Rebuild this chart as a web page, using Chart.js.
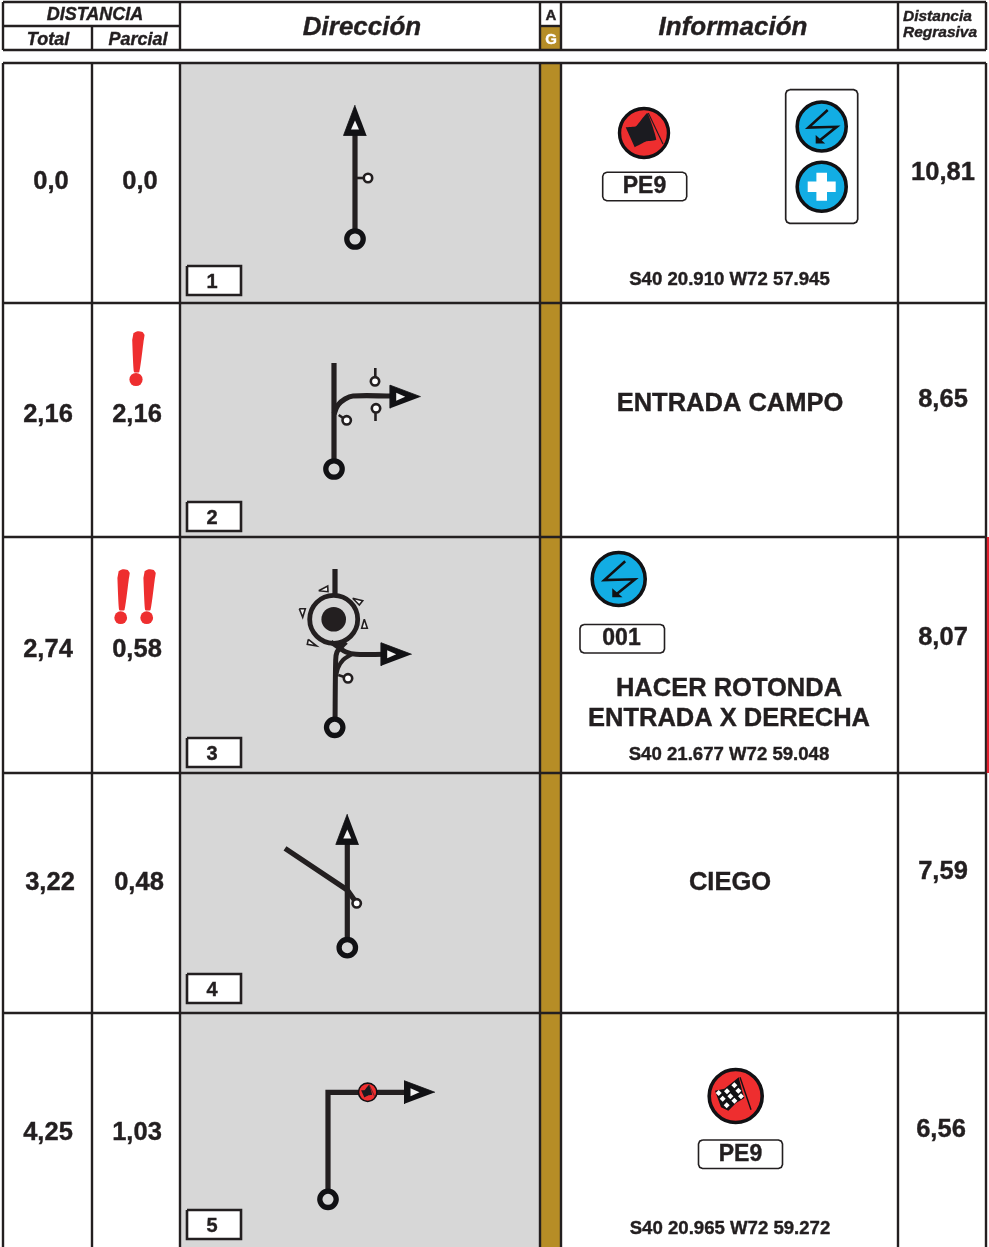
<!DOCTYPE html>
<html>
<head>
<meta charset="utf-8">
<script src="https://cdn.jsdelivr.net/npm/chart.js@4/dist/chart.umd.js"></script>
<style>
  html, body { margin: 0; padding: 0; background: #fff; }
  canvas { display: block; }
</style>
</head>
<body>
<canvas id="roadbook" width="989" height="1247"></canvas>
<script>
// values read from the roadbook
const totalKm = ['0,0', '2,16', '2,74', '3,22', '4,25'];
const partialKm = ['0,0', '2,16', '0,58', '0,48', '1,03'];
const remainingKm = ['10,81', '8,65', '8,07', '7,59', '6,56'];
const stepNumbers = ['1', '2', '3', '4', '5'];
const notes = ['ENTRADA CAMPO', 'HACER ROTONDA', 'ENTRADA X DERECHA', 'CIEGO'];
const coords = ['S40 20.910 W72 57.945', 'S40 21.677 W72 59.048', 'S40 20.965 W72 59.272'];

// layout, in page units
const gridX = [3, 92, 180, 540, 561, 898, 986];
const rowY = [63, 303, 537, 773, 1013];
const pageBottom = 1247;
const totalX = [51, 48, 48, 50, 48];
const partialX = [140, 137, 137, 139, 137];
const kmY = [181, 414, 649, 882, 1132];
const remainingX = [943, 943, 943, 943, 941];
const remainingY = [172, 399, 637, 871, 1129];
const stepBoxY = [266, 502, 738, 974, 1210];

const INK = '#231f20';
const BLACK = '#111114';
const GREY = '#d7d7d7';
const GOLD = '#b68d26';
const RED = '#ee2e2f';
const BLUE = '#12ade4';
const HOLE = '#f2f2f2';

// symbol outlines, relative to their anchor
const arrowUpOuter = [[0, 0], [-11.5, 30.5], [11.5, 30.5]];
const arrowUpInner = [[0, 15.5], [-4, 24.5], [4, 24.5]];
const arrowRightOuter = [[0, 0], [-30.5, -11.5], [-30.5, 11.5]];
const arrowRightInner = [[-15.5, 0], [-24.5, -4], [-24.5, 4]];
const flagShape = [[-18.3, -5.7], [-8, -6.7], [3.3, -20], [12.3, 6.7], [2.3, 8.3], [-9.3, 14.3]];
const flagPole = [[4.3, -20], [19, 11]];
const boltShape = [[6, -16.5], [-13.3, 1], [15, 0.3], [-3.3, 15]];
const boltHead = [[-6, 17], [-6, 8.5], [3.5, 17]];
const crossShape = [[-5.3, -14], [5.3, -14], [5.3, -5.3], [14, -5.3], [14, 5.3], [5.3, 5.3], [5.3, 14], [-5.3, 14], [-5.3, 5.3], [-14, 5.3], [-14, -5.3], [-5.3, -5.3]];
const bangShape = [[-2, 1], [2, -0.8], [7, 0], [9, 3], [8, 10], [3.8, 40], [-1.5, 40], [-3.3, 8]];
const checkerFlag = [[-20.7, -5.3], [-11.3, -7.3], [-4, -13], [3, -18.7], [7, -3], [8.7, 2], [0.3, 7], [-7.3, 14.7], [-14.7, 11.3]];
const checkerPole = [[4.3, -18.7], [15.3, 13.7]];
const checkerWhite = [[-17, -3], [-8.7, -4.7], [-1.3, -10.7], [-13, 2.7], [-5.3, 0.3], [2.7, -5.3], [-9, 9.3], [-1.3, 4.7], [5.3, 0.3]];

// road diagrams
const road1 = [[355, 239], [355, 135]];
const road1Stub = [[355, 178], [364, 178]];
const road2 = [[334, 363], [334, 469]];
const road2Exit = [[334, 414], [338, 405], [345, 399], [353, 396], [392, 396]];
const road2Stubs = [[[338.7, 415], [346.7, 420.3]], [[375.3, 368], [375.3, 381]], [[375.5, 408], [375.5, 421]]];
const road3In = [[335, 727], [335.7, 660], [337, 652], [342, 646], [346, 642]];
const road3Top = [[335, 569], [335, 594]];
const road3Left = [[336, 676], [338, 668], [343, 660], [352, 654]];
const road3Out = [[331, 642], [338, 647], [346, 652], [356, 654.3], [384, 654.3]];
const road3Stub = [[338.3, 675], [348, 678.3]];
const yieldMarks = [
  [[318.7, 590.7], [327.7, 586], [328, 591.7], [318.7, 590.7]],
  [[352.7, 598.3], [362.7, 600.7], [359.3, 605], [352.7, 598.3]],
  [[364.3, 619.3], [361.7, 628.3], [367.3, 628.3], [364.3, 619.3]],
  [[299.3, 608.7], [305.3, 608.7], [302.7, 617.3], [299.3, 608.7]],
  [[308.3, 639.3], [316.7, 646], [307.3, 644.3], [308.3, 639.3]]
];
const road4 = [[347.3, 948], [347.3, 844]];
const road4Branch = [[285, 848.3], [347.3, 890], [356.7, 903.3]];
const road5 = [[328, 1199], [328, 1092.3], [405, 1092.3]];

const place = (shape, cx, cy, s = 1) => shape.map(([x, y]) => ({ x: cx + x * s, y: cy + y * s }));
const toXY = (list) => list.map(([x, y]) => ({ x, y }));
const rect = (x0, y0, x1, y1) => toXY([[x0, y0], [x1, y0], [x1, y1], [x0, y1], [x0, y0]]);
const roundBox = (x0, y0, x1, y1, r) => toXY([
  [x0 + r, y0], [x1 - r, y0], [x1 - r * 0.3, y0 + r * 0.3], [x1, y0 + r], [x1, y1 - r], [x1 - r * 0.3, y1 - r * 0.3],
  [x1 - r, y1], [x0 + r, y1], [x0 + r * 0.3, y1 - r * 0.3], [x0, y1 - r], [x0, y0 + r], [x0 + r * 0.3, y0 + r * 0.3], [x0 + r, y0]
]);

const layers = [];
function line(data, color = INK, width = 2.4, extra = {}) {
  layers.push({ data, showLine: true, fill: false, borderColor: color, borderWidth: width, pointRadius: 0, borderJoinStyle: 'miter', ...extra });
}
function shape(data, color, stroke = null, width = 0, extra = {}) {
  layers.push({ data, showLine: true, fill: 'shape', backgroundColor: color, borderColor: stroke || color, borderWidth: width, pointRadius: 0, borderJoinStyle: 'miter', ...extra });
}
function dot(data, radius, fillColor, stroke = INK, width = 0, extra = {}) {
  layers.push({ data, showLine: false, pointRadius: radius, pointBackgroundColor: fillColor, pointBorderColor: stroke, pointBorderWidth: width, ...extra });
}

function arrowUp(x, y) {
  shape(place(arrowUpOuter, x, y), BLACK, BLACK, 0.8);
  shape(place(arrowUpInner, x, y), HOLE);
}
function arrowRight(x, y) {
  shape(place(arrowRightOuter, x, y), BLACK, BLACK, 0.8);
  shape(place(arrowRightInner, x, y), HOLE);
}
function startRing(x, y) { dot([{ x, y }], 8.2, GREY, BLACK, 5.3); }
function smallRing(x, y) { dot([{ x, y }], 4.2, '#ffffff', INK, 2.6); }
function flagBadge(x, y, s, r, ring) {
  dot([{ x, y }], r, RED, BLACK, ring);
  shape(place(flagShape, x, y, s), '#1b1b20', '#1b1b20', 0, { tension: 0.12 });
  line(place(flagPole, x, y, s), '#1b1b20', s > 0.6 ? 1.1 : 0.6);
}
function boltBadge(x, y, r, s) {
  dot([{ x, y }], r, BLUE, BLACK, 3.6);
  line(place(boltShape, x, y, s), BLACK, 2.6);
  shape(place(boltHead, x, y, s), BLACK);
}
function plate(x0, y0, x1, y1) {
  shape(roundBox(x0, y0, x1, y1, 4), '#ffffff', INK, 1.6);
}

// backgrounds
shape(rect(gridX[2], rowY[0], gridX[3], pageBottom), GREY);
shape(rect(gridX[3], rowY[0], gridX[4], pageBottom), GOLD);
shape(rect(gridX[3], 26, gridX[4], 50), GOLD);

// header grid
gridX.forEach((x, i) => {
  if (i === 1) line(toXY([[x, 26], [x, 50]]));
  else line(toXY([[x, 2], [x, 50]]));
});
line(toXY([[3, 2], [986, 2]]));
line(toXY([[3, 50], [986, 50]]));
line(toXY([[3, 26], [181, 26]]));
line(toXY([[540, 26], [562, 26]]));

// body grid
gridX.forEach((x) => line(toXY([[x, rowY[0]], [x, pageBottom]])));
rowY.forEach((y) => line(toXY([[3, y], [986, y]])));
line(toXY([[988, 537], [988, 773]]), '#e3202f', 2.4);

// step number boxes
stepBoxY.forEach((y) => shape(rect(187, y, 241, y + 29), '#ffffff', INK, 2.6));

// warning marks
shape(place(bangShape, 135.5, 332), RED, RED, 0, { tension: 0.15 });
dot([{ x: 136, y: 379.5 }], 6.6, RED, RED);
[[120.7, 570], [146.7, 570]].forEach(([x, y]) => {
  shape(place(bangShape, x, y), RED, RED, 0, { tension: 0.15 });
  dot([{ x, y: y + 47.7 }], 6.4, RED, RED);
});

// row 1
line(toXY(road1), INK, 5.2);
line(toXY(road1Stub), INK, 2.6);
arrowUp(355, 105);
startRing(355, 239);
smallRing(368, 178);

// row 2
line(toXY(road2), INK, 5.2);
line(toXY(road2Exit), INK, 5.2, { tension: 0.35 });
road2Stubs.forEach((stub) => line(toXY(stub), INK, 2.6));
arrowRight(420.7, 396.7);
startRing(334, 469);
smallRing(346.7, 420.3);
smallRing(375, 381.3);
smallRing(376, 408.3);

// row 3
line(toXY(road3Top), INK, 5.2);
dot([{ x: 333.7, y: 619.3 }], 24, GREY, INK, 4.8);
dot([{ x: 333.7, y: 619.3 }], 12.3, INK);
line(toXY(road3In), INK, 5, { tension: 0.3 });
line(toXY(road3Left), INK, 4.2, { tension: 0.3 });
line(toXY(road3Out), INK, 5, { tension: 0.3 });
line(toXY(road3Stub), INK, 2.6);
arrowRight(411.7, 654.3);
startRing(334.7, 727.3);
smallRing(348, 678.3);
yieldMarks.forEach((mark) => shape(toXY(mark), HOLE, INK, 1.6));

// row 4
line(toXY(road4), INK, 5.2);
line(toXY(road4Branch), INK, 5.2);
arrowUp(347.3, 814);
startRing(347.3, 947.7);
smallRing(356.7, 903.3);

// row 5
line(toXY(road5), INK, 5.2);
arrowRight(435, 1092.3);
startRing(328, 1199.3);
flagBadge(367.7, 1092.3, 0.36, 9.2, 1.6);

// info column, row 1
flagBadge(644, 133, 1, 24.5, 3.4);
plate(602.7, 172.3, 686.7, 200.7);
shape(roundBox(785.7, 89.7, 857.7, 223.3, 4), '#ffffff', INK, 1.7);
boltBadge(821.7, 126.5, 24.5, 1);
dot([{ x: 821.7, y: 186.7 }], 24.5, BLUE, BLACK, 3.6);
shape(place(crossShape, 821.7, 186.7), '#ffffff');

// info column, row 3
boltBadge(618.7, 579, 26.5, 1.08);
plate(580, 624.5, 664.5, 653);

// info column, row 5
dot([{ x: 735.7, y: 1096 }], 26.5, RED, BLACK, 3.6);
shape(place(checkerFlag, 735.7, 1096), BLACK);
line(place(checkerPole, 735.7, 1096), BLACK, 1.4);
dot(place(checkerWhite, 735.7, 1096), 3, '#ffffff', '#ffffff', 0, { pointStyle: 'rectRot' });
plate(698.5, 1140, 782.5, 1168.5);

// texts: [text, x, y, font, colour, align]
const BOLD = 'bold 25.5px "Liberation Sans"';
const textItems = [
  ['DISTANCIA', 95, 14.5, 'italic bold 18px "Liberation Sans"'],
  ['Total', 48, 39, 'italic bold 18px "Liberation Sans"'],
  ['Parcial', 138, 39, 'italic bold 18px "Liberation Sans"'],
  ['Dirección', 362, 27, 'italic bold 26px "Liberation Sans"'],
  ['Información', 733, 27, 'italic bold 26px "Liberation Sans"'],
  ['A', 551, 15, 'bold 15px "Liberation Sans"'],
  ['G', 551, 39, 'bold 15px "Liberation Sans"', '#ffffff'],
  ['Distancia', 903, 16, 'italic bold 15.5px "Liberation Sans"', INK, 'left'],
  ['Regrasiva', 903, 32, 'italic bold 15.5px "Liberation Sans"', INK, 'left'],
  ['PE9', 644.5, 186, 'bold 23px "Liberation Sans"'],
  ['PE9', 740.5, 1154, 'bold 23px "Liberation Sans"'],
  ['001', 621.5, 638, 'bold 23px "Liberation Sans"'],
  [notes[0], 730, 403, BOLD],
  [notes[1], 729, 688, BOLD],
  [notes[2], 729, 718, BOLD],
  [notes[3], 730, 882, BOLD],
  [coords[0], 729.5, 279, 'bold 18.6px "Liberation Sans"'],
  [coords[1], 729, 754, 'bold 18.6px "Liberation Sans"'],
  [coords[2], 730, 1228, 'bold 18.6px "Liberation Sans"']
];
totalKm.forEach((t, i) => textItems.push([t, totalX[i], kmY[i], BOLD]));
partialKm.forEach((t, i) => textItems.push([t, partialX[i], kmY[i], BOLD]));
remainingKm.forEach((t, i) => textItems.push([t, remainingX[i], remainingY[i], BOLD]));
stepNumbers.forEach((t, i) => textItems.push([t, 212, stepBoxY[i] + 15, 'bold 20px "Liberation Sans"']));

const textPlugin = {
  id: 'pageText',
  afterDatasetsDraw(chart) {
    const { ctx, scales } = chart;
    ctx.save();
    ctx.textBaseline = 'middle';
    ctx.lineWidth = 0.4;
    textItems.forEach(([text, x, y, font, color, align]) => {
      const px = scales.x.getPixelForValue(x);
      const py = scales.y.getPixelForValue(y) + 1;
      ctx.font = font;
      ctx.fillStyle = color || INK;
      ctx.strokeStyle = color || INK;
      ctx.textAlign = align || 'center';
      ctx.fillText(text, px, py);
      ctx.strokeText(text, px, py);
    });
    ctx.restore();
  }
};

layers.forEach((d, i) => { d.order = layers.length - i; d.clip = false; });

new Chart(document.querySelector('#roadbook'), {
  type: 'scatter',
  data: { datasets: layers },
  options: {
    responsive: false,
    animation: false,
    events: [],
    layout: { padding: 0, autoPadding: false },
    plugins: { legend: { display: false }, tooltip: { enabled: false }, title: { display: false } },
    scales: {
      x: { type: 'linear', display: false, min: 0, max: 989 },
      y: { type: 'linear', display: false, min: 0, max: 1247, reverse: true }
    }
  },
  plugins: [textPlugin]
});
</script>
</body>
</html>
